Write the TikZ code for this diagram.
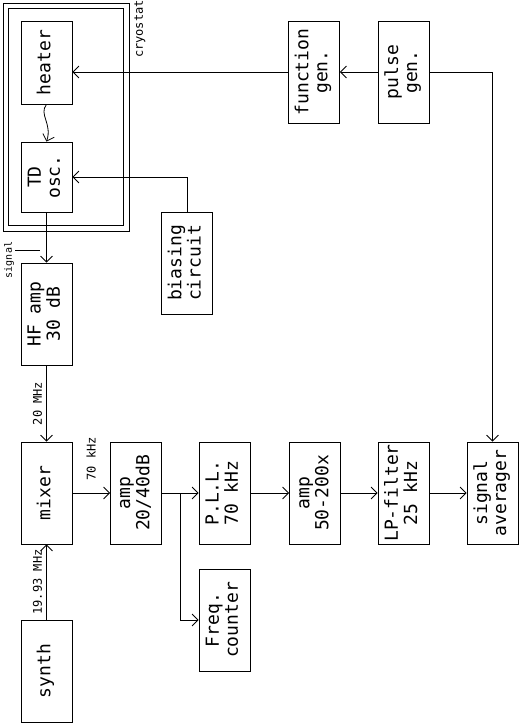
\documentclass[tikz,border=0pt]{standalone}
\usepackage{fontspec}
\setmonofont{DejaVu Sans Mono}
\usetikzlibrary{arrows.meta,calc}
\newcommand{\vtext}[1]{\rotatebox{90}{\begin{tabular}{@{}c@{}}#1\end{tabular}}}
\tikzset{
  block/.style={draw, line width=0.8pt, inner sep=0pt, minimum width=51pt, minimum height=102pt,
    font=\ttfamily\fontsize{18}{19}\selectfont},
  tag/.style={inner sep=0pt, font=\ttfamily\fontsize{12}{13}\selectfont},
  link/.style={line width=0.8pt, -{Straight Barb[length=6pt,width=12pt]}},
}
\begin{document}
\begin{tikzpicture}[x=1pt,y=-1pt]
    \useasboundingbox (0,0) rectangle (519,723);

    % Cryostat walls
    \draw[line width=0.8pt] (3,3) rectangle (129,231);
    \draw[line width=0.8pt] (8,8) rectangle (123,225);
    \node[tag] (cryolabel) at (140,29) {\rotatebox{90}{cryostat}};

    % Left column
    \node[block, minimum height=83pt] (heater) at (46.5,62.5) {\vtext{heater}};
    \node[block, minimum height=70pt] (tdosc) at (46.5,177) {\vtext{TD\\osc.}};
    \node[block] (hfamp) at (46.5,314) {\vtext{HF amp\\30 dB}};
    \node[block] (mixer) at (46.5,493) {\vtext{mixer}};
    \node[block] (synth) at (46.5,671) {\vtext{synth}};

    % Top row
    \node[block] (func) at (314,72) {\vtext{function\\gen.}};
    \node[block] (pulse) at (403.5,72) {\vtext{pulse\\gen.}};
    \node[block] (bias) at (187,263) {\vtext{biasing\\circuit}};

    % Signal chain
    \node[block] (ampa) at (136,493) {\vtext{amp\\20/40dB}};
    \node[block] (pll) at (224.5,493) {\vtext{P.L.L.\\70 kHz}};
    \node[block] (freq) at (224.5,620) {\vtext{Freq.\\counter}};
    \node[block] (ampb) at (315,493) {\vtext{amp\\50-200x}};
    \node[block] (lpf) at (403.5,493) {\vtext{LP-filter\\25 kHz}};
    \node[block] (avg) at (492.5,493) {\vtext{signal\\averager}};

    % Signal tap
    \node[tag, font=\ttfamily\fontsize{10}{11}\selectfont] (siglabel) at (9,260) {\rotatebox{90}{signal}};
    \coordinate (sigstart) at (15,250);
    \coordinate (sigend) at (40,250);
    \draw[line width=0.8pt] (sigstart) -- (sigend);

    % Connections
    \draw[link] (pulse.west) -- (func.east);
    \draw[link] (func.west) -- (func.west -| heater.east);
    \draw[link] (heater.south) .. controls +(-8,10) and +(6,-18) .. (tdosc.north);
    \draw[link] (bias.north) |- (tdosc.east);
    \draw[link] (tdosc.south) -- (hfamp.north);
    \draw[link] (hfamp.south) -- node[tag, left, xshift=-4pt] {\rotatebox{90}{20 MHz}} (mixer.north);
    \draw[link] (synth.north) -- node[tag, left, xshift=-4pt] {\rotatebox{90}{19.93 MHz}} (mixer.south);
    \draw[link] (mixer.east) -- node[tag, above=12pt] {\rotatebox{90}{70 kHz}} (ampa.west);
    \draw[link] (ampa.east) -- (pll.west);
    \draw[link] ($(ampa.east)!0.5!(pll.west)$) |- (freq.west);
    \draw[link] (pll.east) -- (ampb.west);
    \draw[link] (ampb.east) -- (lpf.west);
    \draw[link] (lpf.east) -- (avg.west);
    \draw[link] (pulse.east) -| (avg.north);
\end{tikzpicture}
\end{document}
